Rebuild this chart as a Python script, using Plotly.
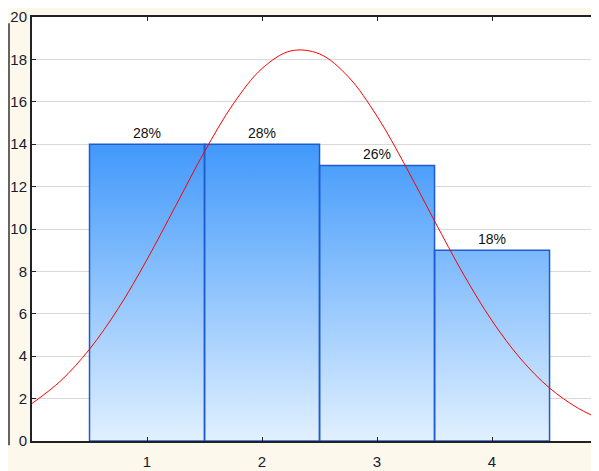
import plotly.graph_objects as go

categories = [1, 2, 3, 4]
counts = [14, 14, 13, 9]
pct_labels = ["28%", "28%", "26%", "18%"]

# fitted normal curve
curve_x = [0, 0.25, 0.5, 0.75, 1.0, 1.25, 1.5, 1.75, 2.0, 2.25, 2.5, 2.75,
           3.0, 3.25, 3.5, 3.75, 4.0, 4.25, 4.5, 4.75, 5.0]
curve_y = [1.77, 2.84, 4.33, 6.25, 8.56, 11.1, 13.65, 15.9, 17.57, 18.4, 18.26, 17.18,
           15.32, 12.95, 10.38, 7.88, 5.67, 3.87, 2.5, 1.54, 0.89]

y_ticks = list(range(0, 21, 2))

# bar polygons built from the data
bx, by = [], []
for c, v in zip(categories, counts):
    bx += [c - 0.5, c - 0.5, c + 0.5, c + 0.5, c - 0.5, None]
    by += [0, v, v, 0, 0, None]

fig = go.Figure()
fig.add_trace(go.Scatter(
    x=bx, y=by, mode="lines", fill="toself",
    fillgradient=dict(type="vertical", start=0, stop=14.5,
                      colorscale=[[0, "#e2f1ff"], [1, "#3c96fb"]]),
    line=dict(color="#1f5bd0", width=1.5),
    hoverinfo="skip", showlegend=False,
))
fig.add_trace(go.Scatter(
    x=curve_x, y=curve_y, mode="lines", line=dict(color="#ff0000", width=1, shape="spline"),
    showlegend=False, hoverinfo="skip",
))

for c, v, t in zip(categories, counts, pct_labels):
    fig.add_annotation(x=c, y=v, text=t, showarrow=False, yanchor="bottom", yshift=1,
                       font=dict(family="Liberation Sans, Arial", size=14, color="#111111"))

# partial frame of neighbouring panel at the far left
fig.add_shape(type="line", xref="paper", yref="paper",
              x0=-23 / 567, x1=-23 / 567, y0=-0.01, y1=0.985,
              line=dict(color="#333333", width=1.5))

fig.update_layout(
    width=591, height=463,
    margin=dict(l=24, r=0, t=7, b=30),
    paper_bgcolor="#fdf8ec",
    plot_bgcolor="#ffffff",
    font=dict(family="Liberation Sans, Arial", size=15, color="#1a1a33"),
    xaxis=dict(range=[0, 4.93], tickvals=categories, ticktext=[str(c) for c in categories],
               showgrid=False, zeroline=False, showline=True, linecolor="#222222", linewidth=2,
               ticks="inside", ticklen=4, tickcolor="#222222", mirror="ticks",
               ticklabelstandoff=6, ticklabeloverflow="allow",
               tickfont=dict(size=15, color="#1a1a33")),
    yaxis=dict(range=[0, 20], tickvals=y_ticks, showgrid=True, gridcolor="#d9d9d9", gridwidth=1.2,
               zeroline=False, showline=True, linecolor="#222222", linewidth=2,
               ticks="inside", ticklen=4, tickcolor="#222222", ticklabeloverflow="allow",
               tickfont=dict(size=15, color="#1a1a33")),
)

fig.write_html("out.html")
